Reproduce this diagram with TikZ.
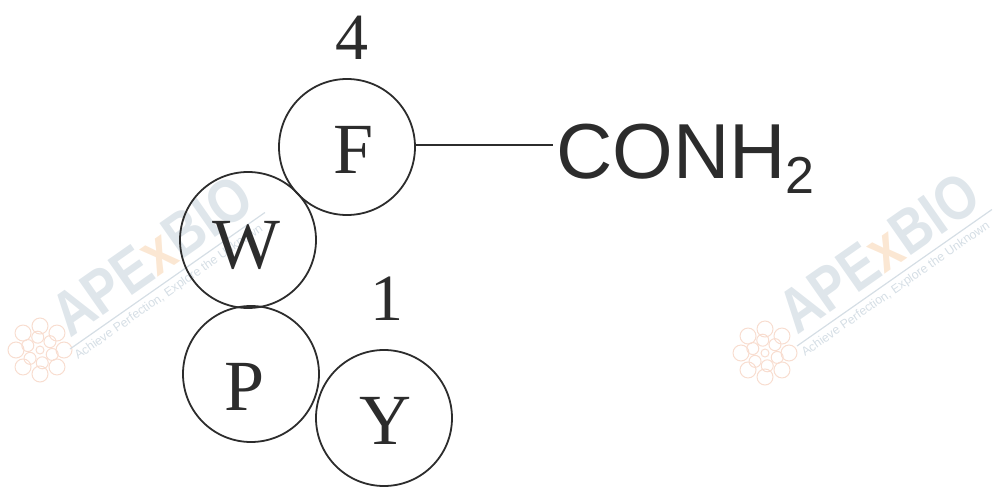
\documentclass[tikz,border=0pt]{standalone}
\usepackage{fontspec}
\setmainfont{Liberation Serif}
\newfontfamily\wmfont{Liberation Sans}
\definecolor{wmgrey}{HTML}{DFE6EB}
\definecolor{wmline}{HTML}{D5DEE5}
\definecolor{wmorange}{HTML}{FBE7D3}
\definecolor{wmpetal}{HTML}{F8DDD0}
\definecolor{inkline}{HTML}{2C2C2C}
\tikzset{
  residue/.style={circle,draw=inkline,line width=1.8pt,minimum size=136pt,inner sep=0pt,text=inkline,font=\fontsize{72}{72}\selectfont},
  seqnum/.style={inner sep=0pt,text=inkline,font=\fontsize{66}{66}\selectfont},
  group/.style={inner sep=0pt,anchor=base west,text=inkline,font=\wmfont\fontsize{78}{78}\selectfont},
  bond/.style={draw=inkline,line width=1.4pt},
  wmtitle/.style={inner sep=0pt,anchor=base west,rotate=35,text=wmgrey,font=\wmfont\bfseries\fontsize{62}{62}\selectfont},
  wmtag/.style={inner sep=0pt,anchor=base west,rotate=35,text=wmline,font=\wmfont\fontsize{12.3}{13}\selectfont},
  wmrule/.style={draw=wmline,line width=1.2pt},
  wmpet/.style={draw=wmpetal,line width=1pt},
}
\newcommand{\logomark}[2]{%
  \foreach \a in {0,45,...,315} {
    \draw[wmpet] ({#1+24*cos(\a)},{#2+24*sin(\a)}) circle (8pt);
  }
  \foreach \a in {20,80,...,320} {
    \draw[wmpet] ({#1+13*cos(\a)},{#2+13*sin(\a)}) circle (6pt);
  }
  \draw[wmpet] (#1,#2) circle (4pt);
}
\newcommand{\watermark}[2]{%
  \node[wmtitle] at (#1,#2) {\scalebox{0.84}[1]{APE\textcolor{wmorange}{x}BIO}};
  \draw[wmrule] (#1,#2+10) -- ++(-35:238);
  \node[wmtag] at (#1+8,#2+21) {Achieve Perfection, Explore the Unknown};
}
\begin{document}
\begin{tikzpicture}[x=1pt,y=-1pt]
\useasboundingbox (0,0) rectangle (998,490);
\logomark{40}{350}
\logomark{765}{353}
\watermark{70}{339}
\watermark{797}{336}
\node[residue] (F) at (347,147) {};
\node[residue] (W) at (248,240) {};
\node[residue] (P) at (251,374) {};
\node[residue] (Y) at (384,418) {};
\node[residue,draw=none,fill=none] (Flabel) at (354,150) {F};
\node[residue,draw=none,fill=none] (Wlabel) at (246,245) {W};
\node[residue,draw=none,fill=none] (Plabel) at (245,387) {P};
\node[residue,draw=none,fill=none] (Ylabel) at (385,421) {Y};
\node[seqnum] (four) at (352,38) {4};
\node[seqnum] (one) at (387,299) {1};
\node[group] (conh) at (556,178) {CONH\raisebox{-15pt}{\fontsize{52}{52}\selectfont 2}};
\coordinate (bondend) at (553,145);
\draw[bond] (F.east |- bondend) -- (bondend);
\end{tikzpicture}
\end{document}
